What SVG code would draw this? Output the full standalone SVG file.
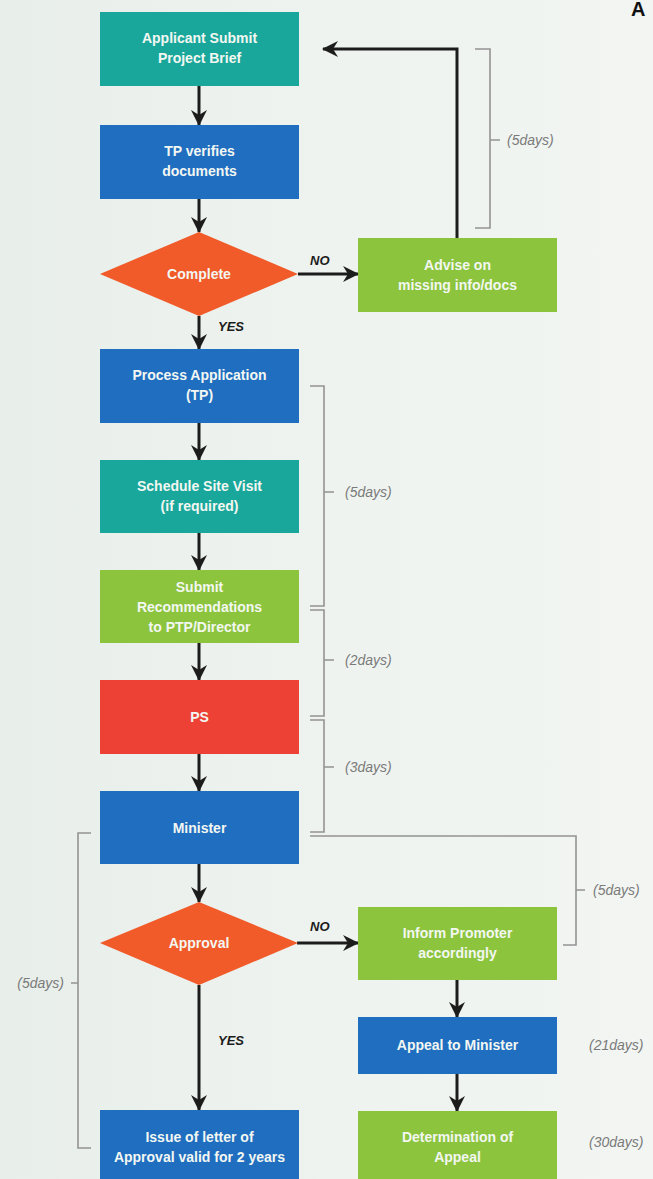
<svg xmlns="http://www.w3.org/2000/svg" width="653" height="1179" viewBox="0 0 653 1179">
<defs>
<linearGradient id="bg" x1="0" y1="0" x2="1" y2="0">
<stop offset="0" stop-color="#e8eee9"/>
<stop offset="0.5" stop-color="#eef3ef"/>
<stop offset="1" stop-color="#f2f5f2"/>
</linearGradient>
<marker id="ah" viewBox="0 0 16 16" markerWidth="16" markerHeight="16" markerUnits="userSpaceOnUse" refX="15" refY="8" orient="auto">
<path d="M0,0 L16,8 L0,16 L5,8 z" fill="#1c1c1c"/>
</marker>
</defs>
<style>
.teal{fill:#1aa79b}
.blue{fill:#1f6ec0}
.green{fill:#8cc43e}
.orange{fill:#f15a29}
.red{fill:#ee4136}
.t{font-family:"Liberation Sans",Arial,sans-serif;font-size:14px;font-weight:bold;fill:#f3f7f2;text-anchor:middle}
.lab{font-family:"Liberation Sans",Arial,sans-serif;font-size:13px;font-weight:bold;font-style:italic;fill:#1c1c1c}
.day{font-family:"Liberation Sans",Arial,sans-serif;font-size:14px;font-style:italic;fill:#7a7a7a}
.conn{fill:none;stroke:#1c1c1c;stroke-width:3;marker-end:url(#ah)}
.br{fill:none;stroke:#939393;stroke-width:1.6}
</style>
<rect x="0" y="0" width="653" height="1179" fill="url(#bg)"/>
<text x="631" y="16" font-family="Liberation Sans,Arial,sans-serif" font-size="20" font-weight="bold" fill="#111">A</text>

<g id="connectors">
<line class="conn" x1="199" y1="86" x2="199" y2="125"/>
<line class="conn" x1="199" y1="199" x2="199" y2="232"/>
<line class="conn" x1="298" y1="274" x2="358" y2="274"/>
<path class="conn" d="M457,238 V49 H323"/>
<line class="conn" x1="199" y1="316" x2="199" y2="349"/>
<line class="conn" x1="199" y1="423" x2="199" y2="460"/>
<line class="conn" x1="199" y1="533" x2="199" y2="570"/>
<line class="conn" x1="199" y1="643" x2="199" y2="680"/>
<line class="conn" x1="199" y1="754" x2="199" y2="791"/>
<line class="conn" x1="199" y1="864" x2="199" y2="902"/>
<line class="conn" x1="297" y1="943" x2="358" y2="943"/>
<line class="conn" x1="199" y1="985" x2="199" y2="1110"/>
<line class="conn" x1="457" y1="980" x2="457" y2="1017"/>
<line class="conn" x1="457" y1="1074" x2="457" y2="1111"/>
<text class="lab" x="310" y="265">NO</text>
<text class="lab" x="218" y="331">YES</text>
<text class="lab" x="310" y="931">NO</text>
<text class="lab" x="218" y="1045">YES</text>
</g>

<g id="brackets">
<path class="br" d="M475,49 H490 V228 H475 M490,140 H500"/>
<text class="day" x="507" y="145">(5days)</text>
<path class="br" d="M310,386 H324 V606 H310 M324,492 H334"/>
<text class="day" x="345" y="497">(5days)</text>
<path class="br" d="M310,610 H324 V716 H310 M324,660 H334"/>
<text class="day" x="345" y="665">(2days)</text>
<path class="br" d="M310,720 H324 V832 H310 M324,767 H334"/>
<text class="day" x="345" y="772">(3days)</text>
<path class="br" d="M310,836 H576 V945 H563 M576,890 H585"/>
<text class="day" x="593" y="895">(5days)</text>
<path class="br" d="M91,833 H78 V1148 H91 M78,983 H71"/>
<text class="day" x="64" y="988" text-anchor="end">(5days)</text>
<text class="day" x="589" y="1050">(21days)</text>
<text class="day" x="589" y="1147">(30days)</text>
</g>

<g id="n1"><rect class="teal" x="100" y="12" width="199" height="74"/>
<text class="t" x="199.5" y="43">Applicant Submit</text><text class="t" x="199.5" y="63">Project Brief</text></g>
<g id="n2"><rect class="blue" x="100" y="125" width="199" height="74"/>
<text class="t" x="199.5" y="156">TP verifies</text><text class="t" x="199.5" y="176">documents</text></g>
<g id="n3"><polygon class="orange" points="199,232 298,274 199,316 100,274"/>
<text class="t" x="199" y="279">Complete</text></g>
<g id="n4"><rect class="green" x="358" y="238" width="199" height="74"/>
<text class="t" x="457.5" y="270">Advise on</text><text class="t" x="457.5" y="290">missing info/docs</text></g>
<g id="n5"><rect class="blue" x="100" y="349" width="199" height="74"/>
<text class="t" x="199.5" y="380">Process Application</text><text class="t" x="199.5" y="400">(TP)</text></g>
<g id="n6"><rect class="teal" x="100" y="460" width="199" height="73"/>
<text class="t" x="199.5" y="491">Schedule Site Visit</text><text class="t" x="199.5" y="511">(if required)</text></g>
<g id="n7"><rect class="green" x="100" y="570" width="199" height="73"/>
<text class="t" x="199.5" y="592">Submit</text><text class="t" x="199.5" y="612">Recommendations</text><text class="t" x="199.5" y="632">to PTP/Director</text></g>
<g id="n8"><rect class="red" x="100" y="680" width="199" height="74"/>
<text class="t" x="199.5" y="722">PS</text></g>
<g id="n9"><rect class="blue" x="100" y="791" width="199" height="73"/>
<text class="t" x="199.5" y="833">Minister</text></g>
<g id="n10"><polygon class="orange" points="199,902 298,943 199,985 100,943"/>
<text class="t" x="199" y="948">Approval</text></g>
<g id="n11"><rect class="green" x="358" y="907" width="199" height="73"/>
<text class="t" x="457.5" y="938">Inform Promoter</text><text class="t" x="457.5" y="958">accordingly</text></g>
<g id="n12"><rect class="blue" x="358" y="1017" width="199" height="57"/>
<text class="t" x="457.5" y="1050">Appeal to Minister</text></g>
<g id="n13"><rect class="green" x="358" y="1111" width="199" height="74"/>
<text class="t" x="457.5" y="1142">Determination of</text><text class="t" x="457.5" y="1162">Appeal</text></g>
<g id="n14"><rect class="blue" x="100" y="1110" width="199" height="74"/>
<text class="t" x="199.5" y="1142">Issue of letter of</text><text class="t" x="199.5" y="1162">Approval valid for 2 years</text></g>
</svg>
